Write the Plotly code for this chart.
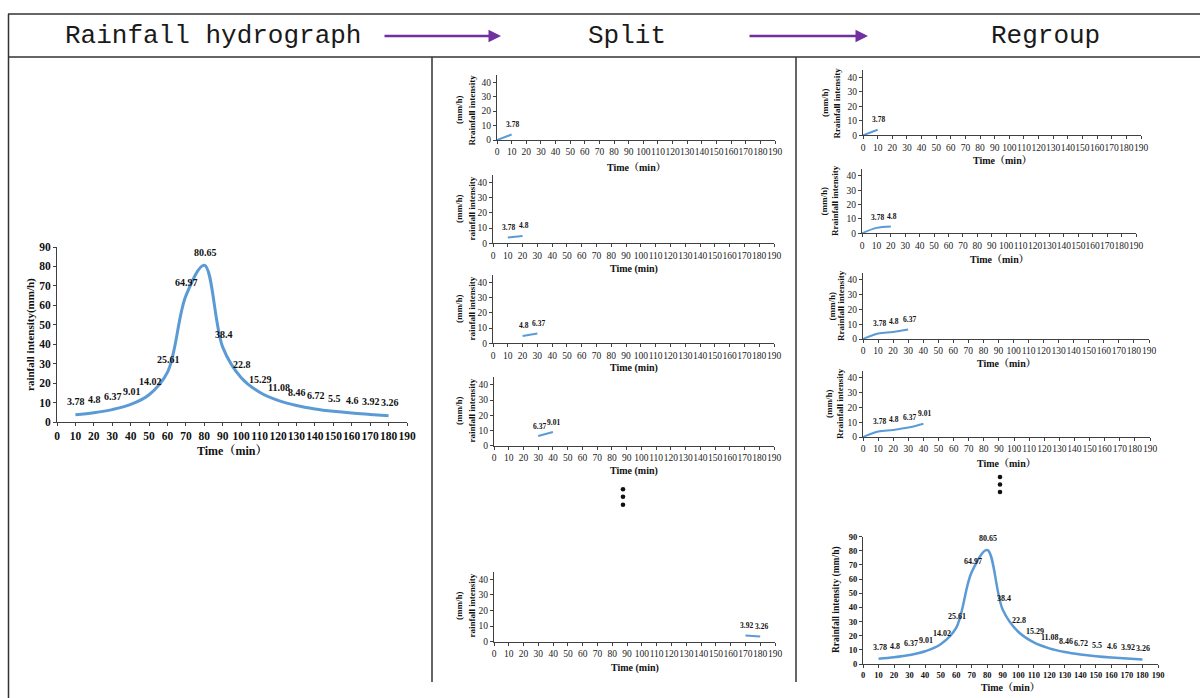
import plotly.graph_objects as go

W, H = 1200, 698

# ---------------- data ----------------
times = [10, 20, 30, 40, 50, 60, 70, 80, 90, 100, 110, 120, 130, 140, 150, 160, 170, 180]
intensity = [3.78, 4.8, 6.37, 9.01, 14.02, 25.61, 64.97, 80.65, 38.4, 22.8,
             15.29, 11.08, 8.46, 6.72, 5.5, 4.6, 3.92, 3.26]
origin_time = [0]
origin_value = [0]
x_ticks = list(range(0, 200, 10))
y_ticks_big = list(range(0, 100, 10))
y_ticks_small = [0, 10, 20, 30, 40]
header_titles = ["Rainfall hydrograph", "Split", "Regroup"]
# split windows: (start index, end index) into times/intensity; None start = from origin
split_windows = [(None, 1), (0, 2), (1, 3), (2, 4), (16, 18)]
regroup_counts = [1, 2, 3, 4]

BLUE = "#5B9BD5"
AX = "#404040"
SERIF = "Liberation Serif, Times New Roman, Noto Serif CJK SC, Noto Sans CJK SC, serif"

def fx(px):
    return px / W

def fy(py):
    return 1 - py / H

fig = go.Figure()
annotations = []
shapes = []

def paper_text(txt, px, py, font, angle=0):
    annotations.append(dict(x=fx(px), y=fy(py), xref="paper", yref="paper", text=txt,
                            xanchor="center", yanchor="middle", textangle=angle,
                            showarrow=False, font=font))

def add_panel(idx, xs, ys, labels, geom, ymax, yticks, line_w, tickfont, lab_font, lab_shift,
              xtitle, xtitle_y, xtitle_font, ytitles, spline=True):
    x0, x1, yb, yt = geom
    sx = "" if idx == 1 else str(idx)
    fig.add_trace(go.Scatter(
        x=xs, y=ys, mode="lines",
        line=dict(color=BLUE, width=line_w, shape="spline" if spline else "linear", smoothing=1.0),
        xaxis="x" + sx, yaxis="y" + sx, showlegend=False, hoverinfo="skip"))
    axcommon = dict(showline=True, linecolor=AX, linewidth=1, ticks="outside", ticklen=3,
                    tickcolor=AX, tickwidth=1, showgrid=False, zeroline=False,
                    tickfont=tickfont, fixedrange=True, automargin=False, tickangle=0)
    fig.layout["xaxis" + sx] = dict(domain=[fx(x0), fx(x1)], range=[0, 190], tickvals=x_ticks,
                                    anchor="y" + sx, **axcommon)
    fig.layout["yaxis" + sx] = dict(domain=[fy(yb), fy(yt)], range=[0, ymax], tickvals=yticks,
                                    anchor="x" + sx, **axcommon)
    for xv, yv in labels:
        annotations.append(dict(x=xv, y=yv, xref="x" + sx, yref="y" + sx, text=str(yv),
                                xanchor="center", yanchor="middle",
                                showarrow=False, yshift=lab_shift, xshift=1,
                                font=lab_font))
    paper_text(xtitle, (x0 + x1) / 2, xtitle_y, xtitle_font)
    for txt, px, py, f in ytitles:
        paper_text(txt, px, py, f, angle=-90)


big_tick = dict(family=SERIF, size=11.5, color="#111", weight="bold")
small_tick = dict(family=SERIF, size=9.5, color="#222")
r5_tick = dict(family=SERIF, size=8.5, color="#111", weight="bold")
big_lab = dict(family=SERIF, size=10, color="#111", weight="bold")
small_lab = dict(family=SERIF, size=7.5, color="#111", weight="bold")
r5_lab = dict(family=SERIF, size=8, color="#111", weight="bold")
ttl_big = dict(family=SERIF, size=12, color="#111", weight="bold")
ttl_small = dict(family=SERIF, size=10, color="#111", weight="bold")
yt_small = dict(family=SERIF, size=9, color="#111", weight="bold")

# ---- left: full hydrograph ----
add_panel(1, times, intensity, list(zip(times, intensity)), (57, 407, 422, 247), 90, y_ticks_big,
          3, big_tick, big_lab, 13, "Time（min）", 451, ttl_big,
          [("rainfall intensity(mm/h)", 30, 335, dict(family=SERIF, size=11, color="#111", weight="bold"))])

# ---- middle: split ----
mid_geo = [(497, 775, 140, 75.1), (493, 774, 243.3, 174.7), (493, 774, 343.3, 274.7),
           (494, 774, 445.7, 377.4), (494, 775, 641.7, 571.5)]
mid_xt = [168, 268.7, 368, 470.7, 668.3]
mid_ytc = [110, 209, 309, 411, 606]
for k, ((a, b), g) in enumerate(zip(split_windows, mid_geo)):
    if a is None:
        xs = origin_time + times[:b]
        ys = origin_value + intensity[:b]
        labs = list(zip(times[:b], intensity[:b]))
    else:
        xs = times[a:b]
        ys = intensity[a:b]
        labs = list(zip(xs, ys))
    ytl = "Rrainfall intensity" if k == 0 else "rainfall intensity"
    add_panel(2 + k, xs, ys, labs, g, 45, y_ticks_small, 2, small_tick, small_lab, 10,
              "Time（min）" if k == 0 else "Time (min)", mid_xt[k], ttl_small,
              [("(mm/h)", 459, mid_ytc[k], yt_small), (ytl, 471.5, mid_ytc[k], yt_small)])

# ---- right: regroup ----
r_geo = [(863, 1141, 135.3, 70), (862, 1136, 233.3, 168.8), (863, 1149, 339, 272.6),
         (863, 1150, 437, 370.6)]
r_xt = [160.7, 259, 364, 463]
r_ytc = [103, 201, 306, 404]
r_ytx = [(825, 836.5), (823.5, 835), (831.5, 841), (829, 840)]
for k, (n, g) in enumerate(zip(regroup_counts, r_geo)):
    xs = origin_time + times[:n]
    ys = origin_value + intensity[:n]
    labs = list(zip(times[:n], intensity[:n]))
    add_panel(7 + k, xs, ys, labs, g, 45, y_ticks_small, 2, small_tick, small_lab, 10,
              "Time（min）", r_xt[k], ttl_small,
              [("(mm/h)", r_ytx[k][0], r_ytc[k], yt_small),
               ("Rrainfall intensity", r_ytx[k][1], r_ytc[k], yt_small)])

add_panel(11, times, intensity, list(zip(times, intensity)), (863, 1158, 664, 536.7), 90, y_ticks_big,
          2.5, r5_tick, r5_lab, 11, "Time（min）", 687.5, ttl_small,
          [("Rrainfall intensity (mm/h)", 836, 600, dict(family=SERIF, size=9.5, color="#111", weight="bold"))])

# ---------------- frame ----------------
FR = "#333333"
def hline(x0, x1, y, w=1.5, c=FR):
    shapes.append(dict(type="line", xref="paper", yref="paper", x0=fx(x0), x1=fx(x1),
                       y0=fy(y), y1=fy(y), line=dict(color=c, width=w)))
def vline(x, y0, y1, w=1.5, c=FR):
    shapes.append(dict(type="line", xref="paper", yref="paper", x0=fx(x), x1=fx(x),
                       y0=fy(y0), y1=fy(y1), line=dict(color=c, width=w)))

hline(8, 1200, 14)
hline(8, 1200, 57)
vline(8.5, 14, 698)
vline(432, 57, 682)
vline(796, 57, 682)

# header texts
HFONT = dict(family="Liberation Mono, DejaVu Sans Mono, monospace", size=26, color="#1a1a1a")
for txt, cx in zip(header_titles, [213, 627, 1045]):
    paper_text(txt, cx, 36, HFONT)

# arrows (tail offset in pixels)
PURPLE = "#7030A0"
for xs_, xe in [(383, 501), (748, 868)]:
    annotations.append(dict(x=fx(xe), y=fy(36), xref="paper", yref="paper", ax=xs_ - xe, ay=0,
                            text="", showarrow=True,
                            arrowhead=2, arrowsize=1, arrowwidth=2.5, arrowcolor=PURPLE))

# vertical ellipses
for cx, cys in [(623, [489.3, 496.7, 504.7]), (1000, [477, 484.5, 492])]:
    for cy in cys:
        shapes.append(dict(type="circle", xref="paper", yref="paper",
                           x0=fx(cx - 2.3), x1=fx(cx + 2.3), y0=fy(cy + 2.3), y1=fy(cy - 2.3),
                           fillcolor="#111", line=dict(width=0)))

fig.update_layout(width=W, height=H, margin=dict(l=0, r=0, t=0, b=0, autoexpand=False),
                  paper_bgcolor="white", plot_bgcolor="white",
                  annotations=annotations, shapes=shapes, showlegend=False)

fig.write_html("out.html", config={"displayModeBar": False},
               post_script="document.body.style.margin='0';document.body.style.overflow='hidden';")
